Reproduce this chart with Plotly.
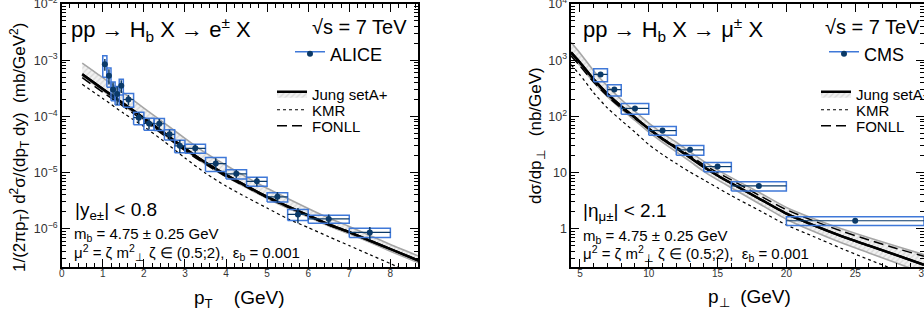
import plotly.graph_objects as go

W, H = 924, 323
T, B = 4, 56
FONT = "Liberation Sans, Arial, sans-serif"

# ---------------- left panel: ALICE, b -> e ----------------
alice_pt = [1.05, 1.15, 1.25, 1.35, 1.45, 1.625, 1.875, 2.125, 2.375, 2.625, 2.875,
            3.25, 3.75, 4.25, 4.75, 5.25, 5.75, 6.5, 7.5]
alice_hw = [0.05, 0.05, 0.05, 0.05, 0.05, 0.125, 0.125, 0.125, 0.125, 0.125, 0.125,
            0.25, 0.25, 0.25, 0.25, 0.25, 0.25, 0.5, 0.5]
alice_val = [8.5e-4, 5.3e-4, 3.0e-4, 2.5e-4, 3.5e-4, 2.0e-4, 9.5e-5, 7.5e-5, 7.4e-5, 4.8e-5,
             3.0e-5, 2.7e-5, 1.45e-5, 9.5e-6, 7.0e-6, 3.7e-6, 1.8e-6, 1.5e-6, 8.6e-7]
alice_stat = [2.0e-4, 1.6e-4, 1.0e-4, 0.9e-4, 0.9e-4, 0.4e-4, 2.2e-5, 1.6e-5, 1.6e-5, 1.0e-5,
              0.8e-5, 0.45e-5, 0.35e-5, 1.6e-6, 1.3e-6, 0.8e-6, 0.55e-6, 0.3e-6, 0.22e-6]
alice_sys = [3.5e-4, 2.0e-4, 1.1e-4, 0.9e-4, 1.1e-4, 0.55e-4, 2.4e-5, 1.8e-5, 1.8e-5, 1.0e-5,
             0.75e-5, 0.5e-5, 0.4e-5, 1.8e-6, 1.3e-6, 0.7e-6, 0.4e-6, 0.25e-6, 0.16e-6]

left_pt = [0.5, 1.0, 1.5, 2.0, 2.5, 3.0, 3.5, 4.0, 4.5, 5.0, 5.5, 6.0, 6.5, 7.0, 7.5, 8.0, 8.7]
left_jung = [5.62e-4, 3.09e-4, 1.70e-4, 9.33e-5, 5.01e-5, 2.69e-5, 1.51e-5, 9.12e-6, 5.75e-6,
             3.72e-6, 2.51e-6, 1.74e-6, 1.20e-6, 8.71e-7, 6.17e-7, 4.37e-7, 2.69e-7]
left_jung_hi = [8.91e-4, 4.90e-4, 2.63e-4, 1.41e-4, 7.59e-5, 4.07e-5, 2.24e-5, 1.35e-5, 8.32e-6,
                5.25e-6, 3.47e-6, 2.29e-6, 1.55e-6, 1.10e-6, 7.59e-7, 5.25e-7, 3.24e-7]
left_jung_lo = [5.25e-4, 2.88e-4, 1.58e-4, 8.71e-5, 4.68e-5, 2.51e-5, 1.41e-5, 8.51e-6, 5.37e-6,
                3.47e-6, 2.34e-6, 1.62e-6, 1.12e-6, 8.13e-7, 5.75e-7, 3.98e-7, 2.45e-7]
left_fonll = [4.90e-4, 2.69e-4, 1.51e-4, 8.32e-5, 4.57e-5, 2.45e-5, 1.41e-5, 8.51e-6, 5.50e-6,
              3.55e-6, 2.45e-6, 1.70e-6, 1.17e-6, 8.71e-7, 6.17e-7, 4.37e-7, 2.69e-7]
left_kmr = [3.72e-4, 2.09e-4, 1.15e-4, 6.61e-5, 3.55e-5, 1.82e-5, 9.77e-6, 5.75e-6, 3.63e-6,
            2.34e-6, 1.51e-6, 1.05e-6, 7.24e-7, 5.01e-7, 3.47e-7, 2.40e-7, 1.41e-7]

# ---------------- right panel: CMS, b -> mu ----------------
cms_pt = [6.5, 7.5, 9.0, 11.0, 13.0, 15.0, 18.0, 25.0]
cms_hw = [0.5, 0.5, 1.0, 1.0, 1.0, 1.0, 2.0, 5.0]
cms_val = [560, 300, 139, 56, 25.4, 12.8, 5.8, 1.39]
cms_stat = [20, 8, 4, 1.5, 0.8, 0.5, 0.25, 0.08]
cms_sys = [145, 68, 30, 10, 5, 2.4, 1.1, 0.25]

right_pt = [4.35, 5, 6, 7, 8, 9, 10, 11, 12, 13, 14, 15, 16, 18, 20, 22, 24, 26, 28, 30]
right_jung = [1380, 912, 457, 251, 151, 95.5, 60.3, 39.8, 27.5, 18.6, 12.6, 8.91, 6.46, 3.47,
              1.86, 1.15, 0.741, 0.501, 0.339, 0.229]
right_jung_hi = [2089, 1349, 646, 347, 200, 123, 75.9, 50.1, 34.7, 23.4, 15.8, 11.2, 8.13, 4.47,
                 2.40, 1.51, 1.00, 0.692, 0.490, 0.347]
right_jung_lo = [1230, 813, 407, 224, 135, 85.1, 52.5, 34.7, 23.4, 15.8, 10.5, 7.41, 5.37, 2.82,
                 1.48, 0.891, 0.562, 0.372, 0.245, 0.162]
right_fonll = [1202, 794, 407, 229, 141, 91.2, 60.3, 40.7, 28.8, 20.0, 13.8, 10.0, 7.41, 3.98,
               2.19, 1.38, 0.912, 0.631, 0.447, 0.324]
right_kmr = [832, 550, 263, 141, 85.1, 52.5, 31.6, 20.9, 14.5, 10.2, 7.41, 5.37, 3.89, 2.14,
             1.17, 0.724, 0.447, 0.282, 0.182, 0.120]

NAVY = "#0b3a68"
BLUE = "#3f78d8"
BAND_LINE = "#a6a6a6"


def px_x(xpx):
    return xpx / W


def px_y(ypx):
    return (H - B - ypx) / (H - B - T)


def box_path(xc, hw, v, s):
    xs, ys = [], []
    for x, h, y, e in zip(xc, hw, v, s):
        xs += [x - h, x + h, x + h, x - h, x - h, None]
        ys += [y - e, y - e, y + e, y + e, y - e, None]
    return xs, ys


fig = go.Figure()


def add_panel(xa, ya, pts, jung, hi, lo, kmr, fonll, dx, dv, dhw, dstat, dsys, name, legs):
    band_pat = dict(shape="/", fgcolor="#bcbcbc", bgcolor="#f2f2f2", size=4, solidity=0.3)
    fig.add_trace(go.Scatter(x=pts, y=lo, mode="lines", xaxis=xa, yaxis=ya,
                             line=dict(color=BAND_LINE, width=1.6, shape="spline", smoothing=0.6),
                             showlegend=False, hoverinfo="skip"))
    fig.add_trace(go.Scatter(x=pts, y=jung, mode="lines", xaxis=xa, yaxis=ya, fill="tonexty",
                             fillpattern=band_pat, fillcolor="#f2f2f2",
                             line=dict(color="black", width=2.4, shape="spline", smoothing=0.6),
                             name="Jung setA+", legend=legs[2]))
    fig.add_trace(go.Scatter(x=pts, y=hi, mode="lines", xaxis=xa, yaxis=ya, fill="tonexty",
                             fillpattern=band_pat, fillcolor="#f2f2f2",
                             line=dict(color=BAND_LINE, width=1.6, shape="spline", smoothing=0.6),
                             showlegend=False, hoverinfo="skip"))
    fig.add_trace(go.Scatter(x=pts, y=jung, mode="lines", xaxis=xa, yaxis=ya,
                             line=dict(color="black", width=2.4, shape="spline", smoothing=0.6),
                             showlegend=False, hoverinfo="skip"))
    fig.add_trace(go.Scatter(x=pts, y=kmr, mode="lines", xaxis=xa, yaxis=ya,
                             line=dict(color="black", width=1.2, dash="dot", shape="spline", smoothing=0.6),
                             name="KMR", legend=legs[3]))
    fig.add_trace(go.Scatter(x=pts, y=fonll, mode="lines", xaxis=xa, yaxis=ya,
                             line=dict(color="black", width=1.5, dash="10px,5px", shape="spline", smoothing=0.6),
                             name="FONLL", legend=legs[4]))
    bx, by = box_path(dx, dhw, dv, dsys)
    fig.add_trace(go.Scatter(x=bx, y=by, mode="lines", xaxis=xa, yaxis=ya, fill="toself",
                             fillcolor="rgba(255,255,255,0)", line=dict(color=BLUE, width=1.5),
                             name=name, legend=legs[0]))
    fig.add_trace(go.Scatter(x=dx, y=dv, mode="markers", xaxis=xa, yaxis=ya,
                             marker=dict(color=NAVY, size=6, symbol="circle"),
                             error_y=dict(type="data", array=dstat, color=NAVY, thickness=1.5, width=0),
                             error_x=dict(type="data", array=dhw, color=NAVY, thickness=1.2, width=0),
                             name=name, legend=legs[1]))


add_panel("x", "y", left_pt, left_jung, left_jung_hi, left_jung_lo, left_kmr, left_fonll,
          alice_pt, alice_val, alice_hw, alice_stat, alice_sys, "ALICE",
          ["legend", "legend2", "legend3", "legend4", "legend5"])
add_panel("x2", "y2", right_pt, right_jung, right_jung_hi, right_jung_lo, right_kmr, right_fonll,
          cms_pt, cms_val, cms_hw, cms_stat, cms_sys, "CMS",
          ["legend6", "legend7", "legend8", "legend9", "legend10"])


def leg(xpx, ypx, size, transparent=False):
    return dict(x=px_x(xpx), y=px_y(ypx), xanchor="left", yanchor="middle",
                bgcolor="rgba(0,0,0,0)", borderwidth=0,
                font=dict(family=FONT, size=size,
                          color="rgba(0,0,0,0)" if transparent else "black"),
                itemclick=False, itemdoubleclick=False)


axis_common = dict(showline=True, linecolor="black", linewidth=2, mirror="allticks",
                   ticks="inside", ticklen=8, tickwidth=1, tickcolor="black",
                   showgrid=False, zeroline=False, ticklabeloverflow="allow",
                   tickfont=dict(family=FONT, size=10, color="#333333"))

fig.update_layout(
    width=W, height=H, margin=dict(l=0, r=0, t=T, b=B, autoexpand=False),
    paper_bgcolor="white", plot_bgcolor="white",
    font=dict(family=FONT, color="black"),
    xaxis=dict(domain=[61.7 / W, 418.3 / W], range=[0, 8.68], dtick=1, anchor="y",
               ticklabelstandoff=-4,
               minor=dict(ticks="inside", ticklen=4, dtick=0.2, tickcolor="black"), **axis_common),
    yaxis=dict(domain=[0, 1], type="log", range=[-6.68, -1.999], dtick=1, exponentformat="power",
               anchor="x", minor=dict(ticks="inside", ticklen=4, dtick="D1", tickcolor="black"),
               **axis_common),
    xaxis2=dict(domain=[571 / W, 1.0], range=[4.35, 30.0], dtick=5, tick0=5, anchor="y2",
                ticklabelstandoff=-4,
                minor=dict(ticks="inside", ticklen=4, dtick=1, tickcolor="black"), **axis_common),
    yaxis2=dict(domain=[0, 1], type="log", range=[-0.68, 4.001], dtick=1, exponentformat="power",
                anchor="x2", minor=dict(ticks="inside", ticklen=4, dtick="D1", tickcolor="black"),
                **axis_common),
    legend=leg(290, 54, 18),
    legend2=leg(290, 54, 18, transparent=True),
    legend3=leg(272, 94, 15),
    legend4=leg(272, 110, 15),
    legend5=leg(272, 126, 15),
    legend6=leg(824, 54, 18),
    legend7=leg(824, 54, 18, transparent=True),
    legend8=leg(816, 94, 15),
    legend9=leg(816, 110, 15),
    legend10=leg(816, 126, 15),
)


def txt(xpx, ypx, text, size, xanchor="left", angle=0):
    fig.add_annotation(x=px_x(xpx), y=px_y(ypx), xref="paper", yref="paper", text=text,
                       showarrow=False, xanchor=xanchor, yanchor="middle", textangle=angle,
                       font=dict(family=FONT, size=size, color="black"))


# left panel texts
txt(69, 30, "pp → H<sub>b</sub> X → e<sup>±</sup> X", 22)
txt(409, 27, "√s = 7 TeV", 20, xanchor="right")
txt(73, 211, "|y<sub>e±</sub>| < 0.8", 19)
txt(72, 234, "m<sub>b</sub> = 4.75 ± 0.25 GeV", 15)
txt(72, 252, "μ<sup>2</sup> = ζ m<sup>2</sup><sub>⊥</sub> ζ ∈ (0.5;2),  ε<sub>b</sub> = 0.001", 15)
txt(240, 299, "p<sub>T</sub>    (GeV)", 19, xanchor="center")
txt(19, 148, "1/(2πp<sub>T</sub>) d<sup>2</sup>σ/(dp<sub>T</sub> dy)  (mb/GeV<sup>2</sup>)", 17,
    xanchor="center", angle=-90)

# right panel texts
txt(581, 30, "pp → H<sub>b</sub> X → μ<sup>±</sup> X", 22)
txt(922, 27, "√s = 7 TeV", 20, xanchor="right")
txt(581, 212, "|η<sub>μ±</sub>| < 2.1", 19)
txt(581, 236, "m<sub>b</sub> = 4.75 ± 0.25 GeV", 15)
txt(581, 253, "μ<sup>2</sup> = ζ m<sup>2</sup><sub>⊥</sub> ζ ∈ (0.5;2),  ε<sub>b</sub> = 0.001", 15)
txt(749, 298, "p<sub>⊥</sub>  (GeV)", 19, xanchor="center")
txt(537, 136, "dσ/dp<sub>⊥</sub>   (nb/GeV)", 17, xanchor="center", angle=-90)

fig.write_html("out.html", config={"displayModeBar": False},
               post_script="document.body.style.margin='0px';")
